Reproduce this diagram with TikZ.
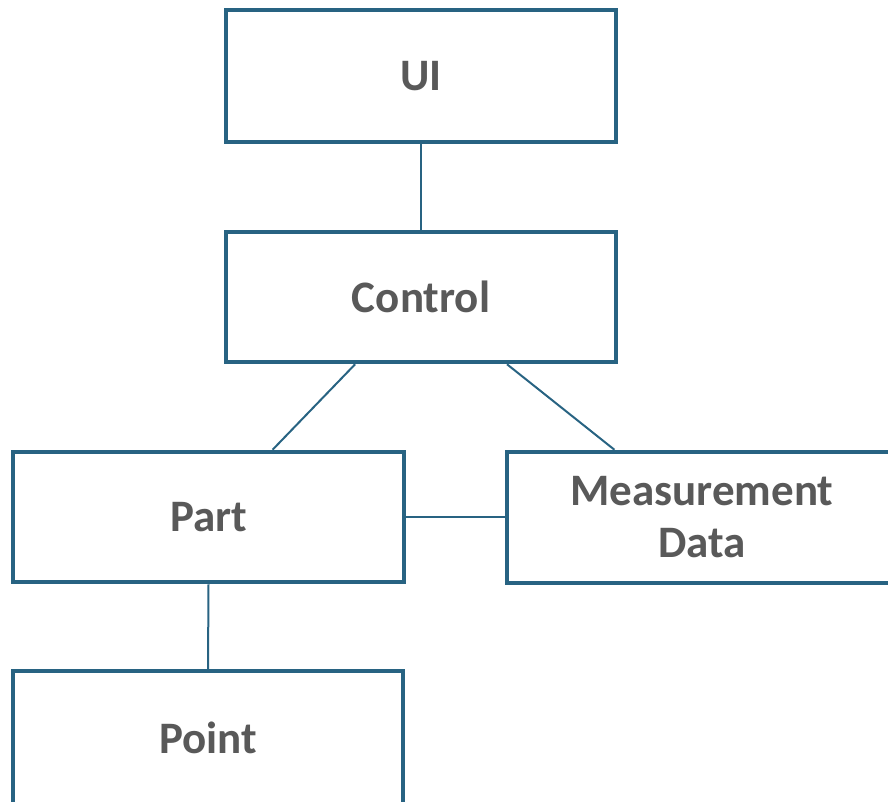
\documentclass[tikz,border=0pt]{standalone}
\usepackage{fontspec}
\setmainfont{Carlito}
\usetikzlibrary{calc}
\definecolor{boxline}{RGB}{40,99,130}
\definecolor{boxtext}{RGB}{89,89,89}
\tikzset{
  block/.style={draw=boxline, line width=4.5pt, fill=white, rectangle,
    inner sep=0pt, minimum width=#1, minimum height=130pt, align=center,
    font=\fontsize{45}{52}\selectfont\bfseries, text=boxtext},
  link/.style={draw=boxline, line width=2pt}
}
\begin{document}
\begin{tikzpicture}[x=1pt,y=-1pt]
  \useasboundingbox (0,0) rectangle (888,802);
  \clip (0,0) rectangle (888,802);
  % boxes
  \node[block=390pt, minimum height=132pt] (ui)   at (421,76)    {UI};
  \node[block=390pt] (ctrl) at (421,297)   {Control};
  \node[block=391pt] (part) at (208.5,517) {Part};
  \node[block=390pt, minimum height=131pt] (meas) at (702,517.5) {Measurement\\Data};
  \node[block=390pt, minimum height=134pt] (pt)   at (208,738)   {Point};
  % connectors
  \draw[link] (ui.south) -- (ctrl.north);
  \draw[link] ($(ctrl.south west)!0.333!(ctrl.south east)$) -- ($(part.north west)!0.662!(part.north east)$);
  \draw[link] ($(ctrl.south west)!0.718!(ctrl.south east)$) -- ($(meas.north west)!0.278!(meas.north east)$);
  \draw[link] (part.east) -- (part.east -| meas.west);
  \draw[link] (part.south) -- (pt.north);
\end{tikzpicture}
\end{document}
